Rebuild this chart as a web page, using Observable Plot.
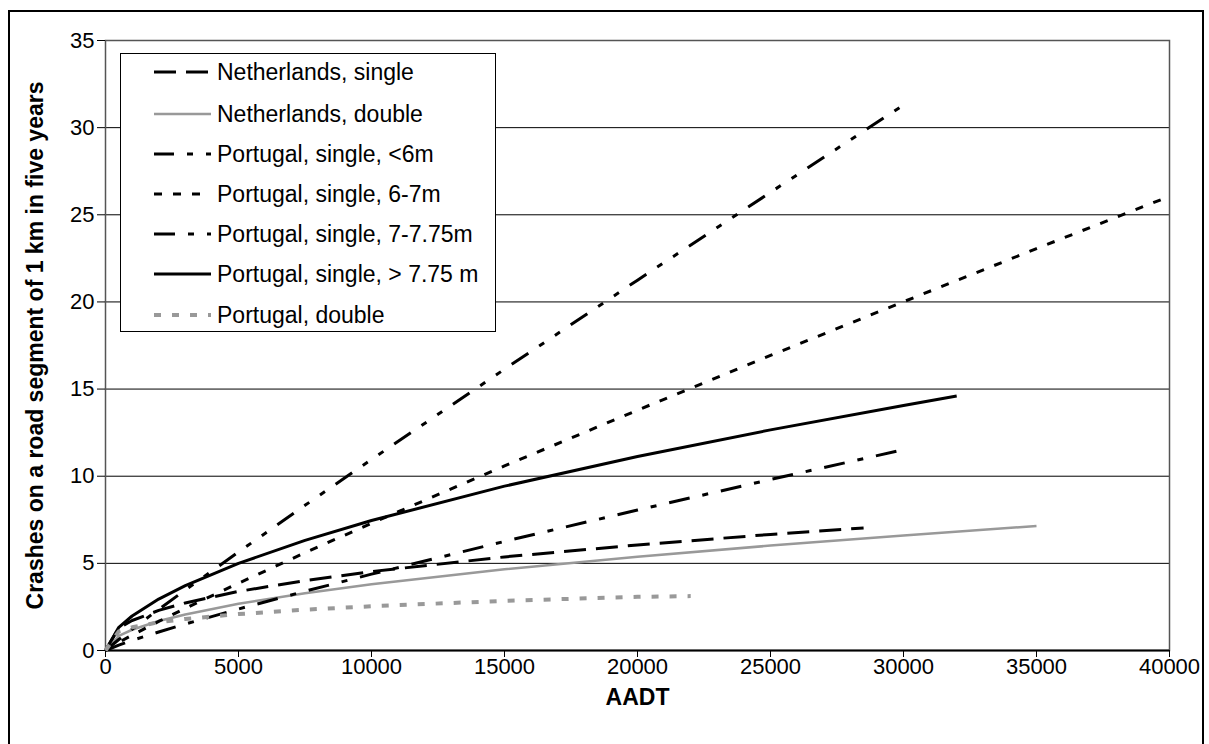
<!DOCTYPE html>
<html>
<head>
<meta charset="utf-8">
<script src="https://cdn.jsdelivr.net/npm/d3@7"></script>
<script src="https://cdn.jsdelivr.net/npm/@observablehq/plot@0.6"></script>
<style>
  html, body { margin: 0; padding: 0; background: #fff; overflow: hidden; }
  #wrap { position: relative; width: 1209px; height: 744px; font-family: "Liberation Sans", Arial, sans-serif; }
  #outer { position: absolute; left: 8px; top: 10px; width: 1192px; height: 800px; border: 2px solid #000; pointer-events: none; }
  #legend { position: absolute; left: 120px; top: 53px; width: 374px; height: 277px; border: 1px solid #000; background: #fff; }
  #legend svg { display: block; }
</style>
</head>
<body>
<div id="wrap">
  <div id="chart"></div>
  <div id="outer"></div>
  <div id="legend"></div>
</div>
<script>
// ---- data ----
const xTicks = [0, 5000, 10000, 15000, 20000, 25000, 30000, 35000, 40000];
const yTicks = [0, 5, 10, 15, 20, 25, 30, 35];

const seriesNames = [
  "Netherlands, single",
  "Netherlands, double",
  "Portugal, single, <6m",
  "Portugal, single, 6-7m",
  "Portugal, single, 7-7.75m",
  "Portugal, single, > 7.75 m",
  "Portugal, double"
];

const nlSingleX = [0, 500, 1000, 2000, 3000, 5000, 7500, 10000, 15000, 20000, 25000, 28500];
const nlSingleY = [0, 1.29, 1.72, 2.30, 2.73, 3.39, 4.01, 4.53, 5.37, 6.06, 6.66, 7.03];

const nlDoubleX = [0, 500, 1000, 2000, 3000, 5000, 7500, 10000, 15000, 20000, 25000, 30000, 35000];
const nlDoubleY = [0, 0.84, 1.19, 1.69, 2.07, 2.68, 3.29, 3.80, 4.66, 5.38, 6.02, 6.60, 7.14];

const ptLt6X = [0, 500, 1000, 2000, 3000, 5000, 7500, 10000, 15000, 20000, 25000, 30000];
const ptLt6Y = [0, 0.63, 1.22, 2.36, 3.47, 5.65, 8.33, 10.96, 16.14, 21.25, 26.29, 31.30];

const pt67X = [0, 500, 1000, 2000, 3000, 5000, 7500, 10000, 15000, 20000, 25000, 30000, 35000, 40000];
const pt67Y = [0, 0.47, 0.88, 1.67, 2.42, 3.86, 5.61, 7.30, 10.59, 13.79, 16.93, 20.01, 23.06, 26.06];

const pt7775X = [0, 500, 1000, 2000, 3000, 5000, 7500, 10000, 15000, 20000, 25000, 30000];
const pt7775Y = [0, 0.31, 0.58, 1.06, 1.52, 2.38, 3.40, 4.38, 6.26, 8.06, 9.81, 11.52];

const ptGt775X = [0, 500, 1000, 2000, 3000, 5000, 7500, 10000, 15000, 20000, 25000, 30000, 32000];
const ptGt775Y = [0, 1.33, 1.98, 2.95, 3.72, 5.00, 6.32, 7.46, 9.43, 11.13, 12.66, 14.06, 14.60];

const ptDoubleX = [0, 500, 1000, 2000, 3000, 5000, 7500, 10000, 15000, 20000, 22000];
const ptDoubleY = [0, 1.10, 1.33, 1.62, 1.81, 2.09, 2.34, 2.54, 2.85, 3.08, 3.12];

const yLabel = "Crashes on a road segment of 1 km in five years";
const xLabel = "AADT";

// ---- styles ----
const styles = [
  {stroke: "#000", width: 3, dash: "22,10"},
  {stroke: "#999", width: 2.5, dash: null},
  {stroke: "#000", width: 3, dash: "20,13,6,13,6,13"},
  {stroke: "#000", width: 3, dash: "8,11"},
  {stroke: "#000", width: 3, dash: "21,13,6,13"},
  {stroke: "#000", width: 3, dash: null},
  {stroke: "#999", width: 4, dash: "7,11"}
];

const xs = [nlSingleX, nlDoubleX, ptLt6X, pt67X, pt7775X, ptGt775X, ptDoubleX];
const ys = [nlSingleY, nlDoubleY, ptLt6Y, pt67Y, pt7775Y, ptGt775Y, ptDoubleY];
const tables = xs.map((arr, i) => arr.map((x, j) => ({x, y: ys[i][j], s: seriesNames[i]})));

const lineMarks = tables.map((t, i) => Plot.line(t, {
  x: "x", y: "y",
  stroke: styles[i].stroke,
  strokeWidth: styles[i].width,
  strokeDasharray: styles[i].dash || undefined,
  strokeLinecap: "butt",
  strokeLinejoin: "round"
}));

const chart = Plot.plot({
  width: 1209,
  height: 744,
  marginLeft: 105,
  marginRight: 40,
  marginTop: 40,
  marginBottom: 94,
  style: {fontFamily: "'Liberation Sans', Arial, sans-serif", fontSize: "22px", background: "transparent", color: "#000"},
  x: {domain: [0, 40000], label: null},
  y: {domain: [0, 35], label: null},
  marks: [
    Plot.gridY(yTicks.filter(d => d > 0), {stroke: "#000", strokeOpacity: 1, strokeWidth: 1}),
    Plot.frame({stroke: "#555", strokeWidth: 1.5}),
    Plot.axisY({ticks: yTicks, tickSize: 8, tickPadding: 3, stroke: "#000", fontSize: 22, tickFormat: d3.format("d")}),
    Plot.axisX({ticks: xTicks, tickSize: 7, tickPadding: 1, stroke: "#000", fontSize: 22, tickFormat: d3.format("d")}),
    Plot.ruleY([0], {stroke: "#000", strokeWidth: 2}),
    ...lineMarks,
    Plot.text([yLabel], {frameAnchor: "left", dx: -70, rotate: -90, textAnchor: "middle", lineAnchor: "middle", fontWeight: "bold", fontSize: 23, fill: "#000"}),
    Plot.text([xLabel], {frameAnchor: "bottom", dy: 47, textAnchor: "middle", lineAnchor: "middle", fontWeight: "bold", fontSize: 23, fill: "#000"})
  ]
});
document.getElementById("chart").appendChild(chart);

// ---- legend ----
const ns = "http://www.w3.org/2000/svg";
const lg = document.createElementNS(ns, "svg");
lg.setAttribute("width", 374);
lg.setAttribute("height", 277);
const rowY = [18, 60, 100, 140, 180, 220, 261];
seriesNames.forEach((name, i) => {
  const ln = document.createElementNS(ns, "line");
  ln.setAttribute("x1", 33); ln.setAttribute("x2", 90);
  ln.setAttribute("y1", rowY[i]); ln.setAttribute("y2", rowY[i]);
  ln.setAttribute("stroke", styles[i].stroke);
  ln.setAttribute("stroke-width", styles[i].width);
  if (styles[i].dash) ln.setAttribute("stroke-dasharray", styles[i].dash);
  lg.appendChild(ln);
  const tx = document.createElementNS(ns, "text");
  tx.setAttribute("x", 96); tx.setAttribute("y", rowY[i]);
  tx.setAttribute("dy", "0.35em");
  tx.setAttribute("font-size", 23);
  tx.setAttribute("font-family", "'Liberation Sans', Arial, sans-serif");
  tx.textContent = name;
  lg.appendChild(tx);
});
document.getElementById("legend").appendChild(lg);
</script>
</body>
</html>
